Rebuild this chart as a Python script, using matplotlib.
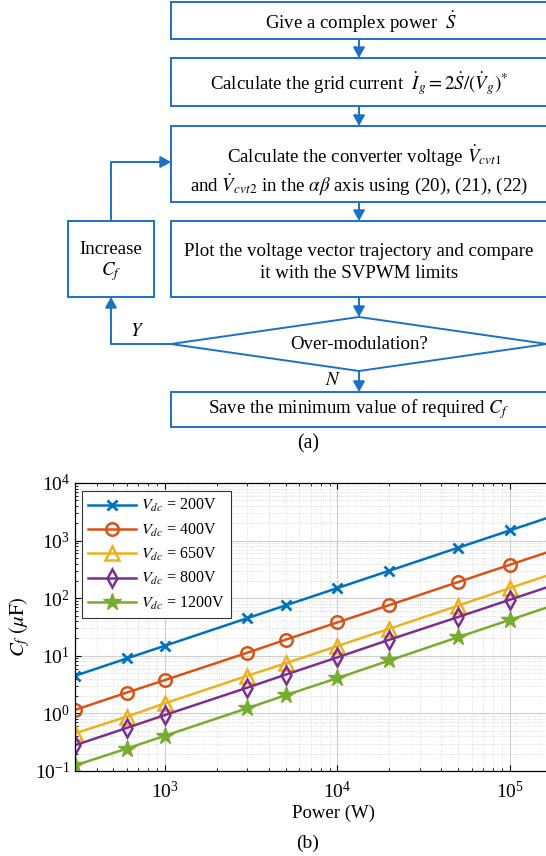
import matplotlib
matplotlib.use('Agg')
import matplotlib.pyplot as plt
from matplotlib.patches import Polygon, Rectangle, FancyArrowPatch

plt.rcParams['font.family'] = 'serif'
plt.rcParams['font.serif'] = ['Liberation Serif', 'DejaVu Serif']
plt.rcParams['mathtext.fontset'] = 'stix'

# ---------------- data ----------------
power_w = [300, 600, 1000, 3000, 5000, 10000, 20000, 50000, 100000, 200000]
cf_200v = [4.5, 9.0, 15.0, 45.0, 75.0, 150.0, 300.0, 750.0, 1500.0, 3000.0]
cf_400v = [1.15, 2.3, 3.8, 11.3, 19.0, 38.0, 76.0, 190.0, 380.0, 760.0]
cf_650v = [0.45, 0.88, 1.5, 4.5, 7.4, 14.8, 29.5, 74.0, 150.0, 300.0]
cf_800v = [0.28, 0.56, 0.94, 2.8, 4.7, 9.4, 19.0, 47.0, 94.0, 188.0]
cf_1200v = [0.125, 0.245, 0.41, 1.23, 2.07, 4.1, 8.3, 21.0, 42.0, 84.0]
series_labels = [r'$V_{dc}$ = 200V', r'$V_{dc}$ = 400V', r'$V_{dc}$ = 650V',
                 r'$V_{dc}$ = 800V', r'$V_{dc}$ = 1200V']

W, H = 546, 856
fig = plt.figure(figsize=(W / 100, H / 100), dpi=100)

# ---------------- flowchart (pixel coordinates) ----------------
fc = fig.add_axes([0, 0, 1, 1])
fc.set_xlim(0, W)
fc.set_ylim(H, 0)
fc.axis('off')

BLUE = '#1b72c2'
LW = 1.4
FS = 13.6


def box(x0, y0, x1, y1):
    fc.add_patch(Rectangle((x0, y0), x1 - x0, y1 - y0, fill=False, ec=BLUE,
                           lw=LW, clip_on=False))


def arrow(x0, y0, x1, y1):
    fc.add_patch(FancyArrowPatch((x0, y0), (x1, y1),
                                 arrowstyle='-|>,head_length=0.45,head_width=0.25',
                                 mutation_scale=14, color=BLUE, lw=LW,
                                 shrinkA=0, shrinkB=0, clip_on=False))


def line(xs, ys):
    fc.plot(xs, ys, color=BLUE, lw=LW, solid_capstyle='butt', clip_on=False)


BX0, BX1 = 171, 547
CX = (BX0 + BX1) / 2

box(BX0, 2, BX1, 39)
box(BX0, 58, BX1, 106)
box(BX0, 126, BX1, 202)
box(BX0, 221, BX1, 297)
box(68, 221, 154, 297)
box(BX0, 392, BX1, 427)
fc.add_patch(Polygon([(BX0, 344), (CX, 317), (BX1, 344), (CX, 371)], closed=True,
                     fill=False, ec=BLUE, lw=LW, clip_on=False))

arrow(CX, 39, CX, 58)
arrow(CX, 106, CX, 126)
arrow(CX, 202, CX, 221)
arrow(CX, 297, CX, 317)
arrow(CX, 371, CX, 392)

line([BX0, 111], [344, 344])
arrow(111, 344, 111, 297)
line([111, 111], [221, 162])
arrow(111, 162, BX0, 162)

fc.text(CX + 2, 22, r'Give a complex power  $\dot{S}$', ha='center', va='center', fontsize=FS)
fc.text(CX, 84, r'Calculate the grid current  $\dot{I}_g = 2\dot{S}/(\dot{V}_g)^{*}$',
        ha='center', va='center', fontsize=FS)
fc.text(CX + 5, 156, r'Calculate the converter voltage $\dot{V}_{cvt1}$',
        ha='center', va='center', fontsize=FS)
fc.text(CX, 185, r'and $\dot{V}_{cvt2}$ in the $\alpha\beta$ axis using (20), (21), (22)',
        ha='center', va='center', fontsize=FS)
fc.text(CX, 251, 'Plot the voltage vector trajectory and compare',
        ha='center', va='center', fontsize=FS)
fc.text(CX, 274, 'it with the SVPWM limits', ha='center', va='center', fontsize=FS)
fc.text(111, 249, 'Increase', ha='center', va='center', fontsize=FS)
fc.text(111, 272, r'$C_f$', ha='center', va='center', fontsize=FS)
fc.text(CX, 344, 'Over-modulation?', ha='center', va='center', fontsize=FS)
fc.text(CX, 409, r'Save the minimum value of required $C_f$', ha='center', va='center', fontsize=FS)
fc.text(137, 331, r'$Y$', ha='center', va='center', fontsize=FS)
fc.text(333, 380, r'$N$', ha='center', va='center', fontsize=FS)
fc.text(308, 444, '(a)', ha='center', va='center', fontsize=FS + 0.5)

# ---------------- log-log chart ----------------
ax = fig.add_axes([75 / W, (H - 771) / H, (592 - 75) / W, 288 / H])
ax.set_xscale('log')
ax.set_yscale('log')

colors = ['#0072BD', '#D95319', '#EDB120', '#7E2F8E', '#77AC30']
markers = ['x', 'o', '^', 'd', '*']
msizes = [7, 9, 10, 9, 13]
all_series = [cf_200v, cf_400v, cf_650v, cf_800v, cf_1200v]
for vals, c, m, ms, lab in zip(all_series, colors, markers, msizes, series_labels):
    if m == '*':
        ax.plot(power_w, vals, color=c, lw=1.8, marker=m, ms=ms, mfc=c, mec=c, label=lab)
    elif m == 'x':
        ax.plot(power_w, vals, color=c, lw=1.8, marker=m, ms=ms, mew=2.0, label=lab)
    else:
        ax.plot(power_w, vals, color=c, lw=1.8, marker=m, ms=ms, mfc='none', mew=1.8, label=lab)

ax.set_xlim(300, 3e5)
ax.set_ylim(0.1, 1e4)
ax.grid(True, which='major', color='#cfcfcf', lw=0.8)
ax.grid(True, which='minor', color='#d0d0d0', lw=0.6, ls=':')
ax.set_axisbelow(True)
ax.tick_params(which='both', direction='in', top=True, right=True, labelsize=14)
ax.tick_params(axis='x', which='major', pad=7)
ax.tick_params(which='major', length=4, width=0.8)
ax.tick_params(which='minor', length=2.5, width=0.6)
for s in ax.spines.values():
    s.set_linewidth(0.9)

ax.set_ylabel(r'$C_f\;(\mu\mathrm{F})$', fontsize=15, labelpad=2)
ax.set_xlabel('Power (W)', fontsize=13.5, labelpad=2)

leg = ax.legend(loc='upper left', bbox_to_anchor=(7 / 517, 1 - 8 / 288), borderaxespad=0,
                fontsize=11.5, handlelength=3.0, labelspacing=0.45, borderpad=0.4,
                fancybox=False, framealpha=1, edgecolor='#333333', handletextpad=0.3)
leg.get_frame().set_linewidth(0.8)

fig.text(308 / W, 1 - 843 / H, '(b)', ha='center', va='center', fontsize=14)

fig.savefig('out.png', dpi=100)
